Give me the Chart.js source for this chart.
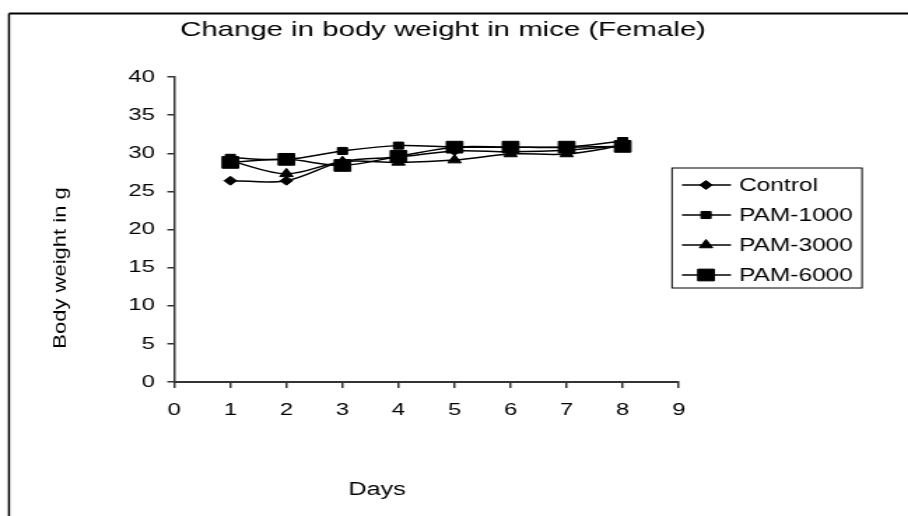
<!DOCTYPE html>
<html>
<head>
<meta charset="utf-8">
<title>Change in body weight in mice (Female)</title>
<script src="https://cdn.jsdelivr.net/npm/chart.js@4.4.1/dist/chart.umd.min.js"></script>
<style>
  html, body { margin: 0; padding: 0; background: #fff; overflow: hidden; }
  /* the source picture is stretched sideways, so the canvas is too */
  #wrap { width: 649px; height: 516px; transform: scaleX(1.3991); transform-origin: 0 0; }
</style>
</head>
<body>
<div id="wrap"><canvas id="chart" width="649" height="516"></canvas></div>
<script>
const days = [1, 2, 3, 4, 5, 6, 7, 8];
const control = [26.4, 26.4, 28.9, 29.5, 30.3, 30.2, 30.4, 31.0];
const pam1000 = [29.4, 29.2, 30.3, 31.0, 30.8, 30.8, 30.8, 31.6];
const pam3000 = [29.0, 27.3, 28.9, 28.8, 29.1, 29.9, 29.9, 31.0];
const pam6000 = [28.8, 29.2, 28.4, 29.6, 30.8, 30.8, 30.8, 30.9];
const seriesNames = ['Control', 'PAM-1000', 'PAM-3000', 'PAM-6000'];
const xTicks = [0, 1, 2, 3, 4, 5, 6, 7, 8, 9];
const yTicks = [0, 5, 10, 15, 20, 25, 30, 35, 40];

const SX = 908 / 649;
const toC = x => x / SX;
const FONT = '"Liberation Sans", Arial, sans-serif';

const markers = [
  { pointStyle: 'rectRot', radius: 4.5 },
  { pointStyle: 'rect', radius: 5 },
  { pointStyle: 'triangle', radius: 5.5 },
  { pointStyle: 'rect', radius: 8.3 }
];

function makeSet(i, values) {
  return {
    label: seriesNames[i],
    data: days.map((d, k) => ({ x: d, y: values[k] })),
    borderColor: '#000',
    backgroundColor: '#000',
    borderWidth: 1.5,
    pointStyle: markers[i].pointStyle,
    pointRadius: markers[i].radius,
    pointBorderWidth: 1,
    tension: 0.33,
    fill: false,
    order: 3 - i
  };
}

const decorations = {
  id: 'decorations',
  afterDraw(chart) {
    const ctx = chart.ctx;
    ctx.save();
    ctx.strokeStyle = '#000';
    ctx.fillStyle = '#000';

    // outer frame (only top and left edges are inside the picture)
    ctx.lineWidth = 2;
    ctx.beginPath();
    ctx.moveTo(toC(9), 13.5);
    ctx.lineTo(chart.width, 13.5);
    ctx.stroke();
    ctx.lineWidth = 1.5;
    ctx.beginPath();
    ctx.moveTo(toC(9), 13.5);
    ctx.lineTo(toC(9), chart.height);
    ctx.stroke();

    // title
    ctx.font = '21px ' + FONT;
    ctx.textAlign = 'center';
    ctx.textBaseline = 'alphabetic';
    ctx.fillText('Change in body weight in mice (Female)', toC(443), 35.5);

    // x axis title
    ctx.font = '18px ' + FONT;
    ctx.fillText('Days', toC(377), 495);

    // y axis title (narrow glyphs, long text)
    ctx.save();
    ctx.translate(toC(66), 268);
    ctx.scale(0.6, 1);
    ctx.rotate(-Math.PI / 2);
    ctx.font = '22px ' + FONT;
    ctx.fillText('Body weight in g', 0, 0);
    ctx.restore();

    // legend
    const bx = toC(672), by = 168, bw = toC(862) - toC(672), bh = 120;
    ctx.lineWidth = 1;
    ctx.strokeRect(bx, by, bw, bh);
    ctx.font = '17.5px ' + FONT;
    ctx.textAlign = 'left';
    ctx.textBaseline = 'middle';
    const rows = [185, 215, 245, 275];
    seriesNames.forEach((name, i) => {
      const y = rows[i];
      ctx.lineWidth = 1.5;
      ctx.beginPath();
      ctx.moveTo(toC(682), y);
      ctx.lineTo(toC(731), y);
      ctx.stroke();
      if (Chart.helpers && Chart.helpers.drawPoint) {
        ctx.lineWidth = 1;
        Chart.helpers.drawPoint(ctx, {
          pointStyle: markers[i].pointStyle,
          radius: markers[i].radius,
          rotation: 0,
          borderWidth: 1
        }, toC(706), y);
      }
      ctx.fillText(name, toC(739), y + 1);
    });
    ctx.restore();
  }
};

new Chart(document.getElementById('chart'), {
  type: 'line',
  data: {
    datasets: [
      makeSet(0, control),
      makeSet(1, pam1000),
      makeSet(2, pam3000),
      makeSet(3, pam6000)
    ]
  },
  options: {
    responsive: false,
    animation: false,
    events: [],
    layout: { padding: { left: toC(174.3) - 40, top: 77, right: 649 - toC(678.7), bottom: 516 - 382 - 40 } },
    plugins: { legend: { display: false }, tooltip: { enabled: false }, title: { display: false } },
    scales: {
      x: {
        type: 'linear',
        position: 'bottom',
        min: xTicks[0],
        max: xTicks[xTicks.length - 1],
        afterBuildTicks: s => { s.ticks = xTicks.map(v => ({ value: v })); },
        afterFit: s => { s.height = 40; },
        ticks: { font: { family: FONT, size: 17 }, color: '#000', padding: 12, maxRotation: 0, autoSkip: false },
        grid: { drawOnChartArea: false, tickLength: 6, color: '#333', lineWidth: 1.5 },
        border: { color: '#333', width: 2 }
      },
      y: {
        type: 'linear',
        position: 'left',
        min: yTicks[0],
        max: yTicks[yTicks.length - 1],
        afterBuildTicks: s => { s.ticks = yTicks.map(v => ({ value: v })); },
        afterFit: s => { s.width = 40; },
        ticks: { font: { family: FONT, size: 17 }, color: '#000', padding: 9 },
        grid: { drawOnChartArea: false, tickLength: 5, color: '#333', lineWidth: 1.5 },
        border: { color: '#333', width: 1.5 }
      }
    }
  },
  plugins: [decorations]
});
</script>
</body>
</html>
